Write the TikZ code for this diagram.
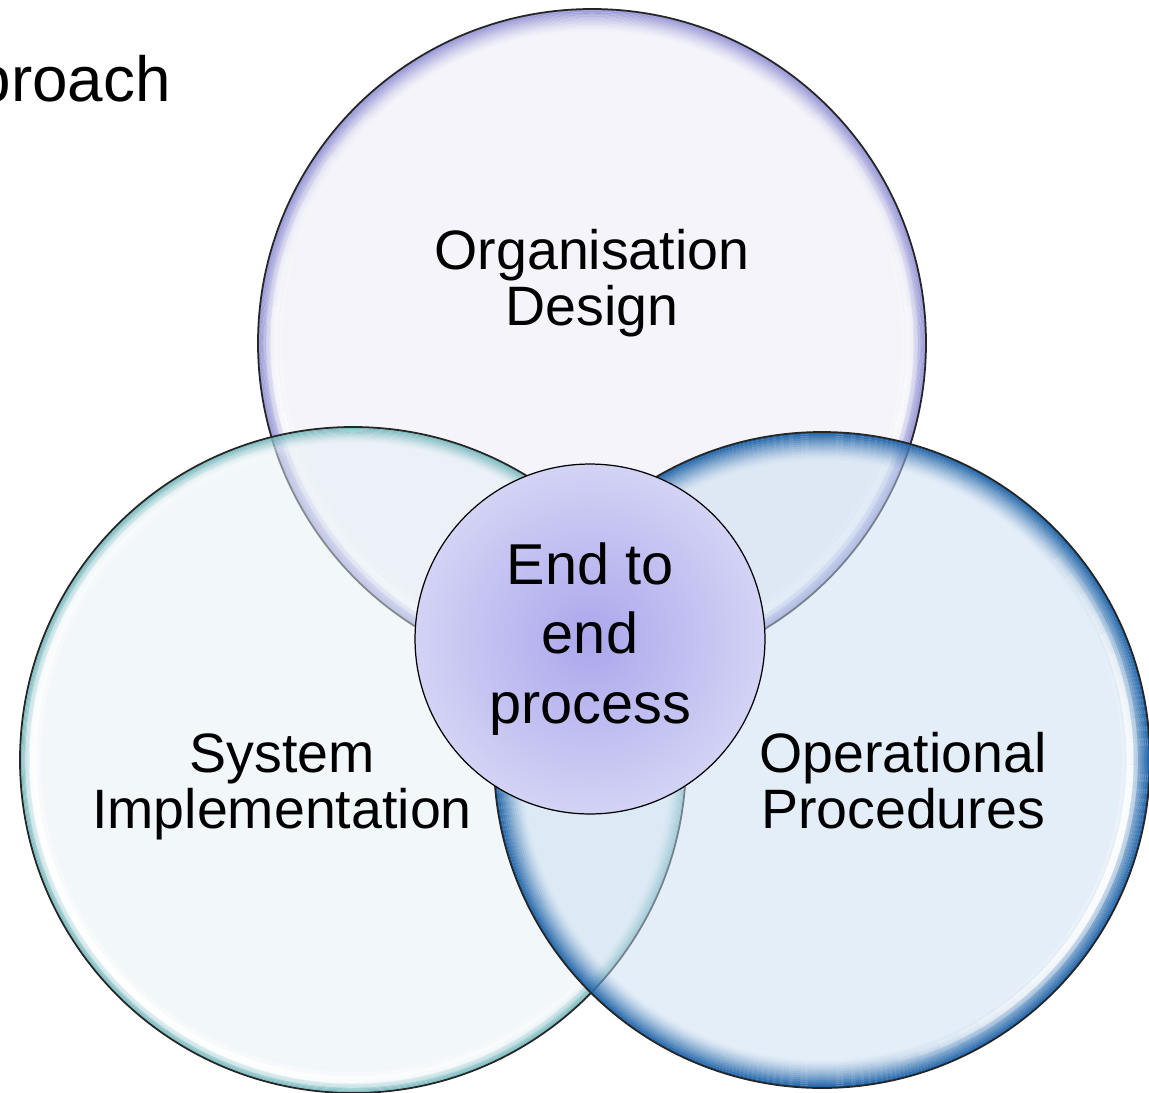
\documentclass[tikz,border=0pt]{standalone}
\usepackage{fontspec}
\setmainfont{Liberation Sans}
\usetikzlibrary{calc}
\newcommand\glowring[5]{%
  \foreach \gi in {0,...,13}{%
    \pgfmathsetmacro\glowOp{#4*(1-\gi/14)^1.5}%
    \pgfmathsetmacro\glowR{#2-(\gi+0.5)*#5/14}%
    \pgfmathsetmacro\glowW{#5/14*1.02*0.02}%
    \draw[#3, line width=\glowW cm, draw opacity=\glowOp] (#1.center) circle[radius=\glowR];
  }%
}
\newcommand\shine[6]{%
  \foreach \sk in {0,...,29}{%
    \pgfmathsetmacro\shA{#3+(#4-#3)*\sk/30}%
    \pgfmathsetmacro\shB{#3+(#4-#3)*(\sk+1)/30}%
    \pgfmathsetmacro\shOp{#6*sin(180*(\sk+0.5)/30)}%
    \pgfmathsetmacro\shOpB{0.45*\shOp}%
    \draw[white, line width=#5*0.045 cm, draw opacity=\shOpB] ($(#1.center)+(\shA:#2)$) arc[start angle=\shA, end angle=\shB, radius=#2];
    \draw[white, line width=#5*0.02 cm, draw opacity=\shOp] ($(#1.center)+(\shA:#2)$) arc[start angle=\shA, end angle=\shB, radius=#2];
  }%
}
\begin{document}
\begin{tikzpicture}[x=0.02cm,y=0.02cm]
\definecolor{topfill}{RGB}{233,233,245}
\definecolor{leftfill}{RGB}{229,239,245}
\definecolor{rightfill}{RGB}{201,221,241}
\definecolor{toptint}{RGB}{140,140,210}
\definecolor{lefttint}{RGB}{100,175,180}
\definecolor{righttint}{RGB}{25,95,165}
\definecolor{cin}{RGB}{171,167,236}
\definecolor{cout}{RGB}{211,211,245}
\tikzset{
  bubble/.style={circle, inner sep=0pt, outer sep=0pt, minimum size=#1, fill opacity=0.5},
  rim/.style={draw=black!85, line width=1pt},
  lbl/.style={font=\fontsize{31.6}{31.8}\selectfont, align=center, inner sep=0pt},
  hub/.style={circle, inner sep=0pt, outer sep=0pt, minimum size=7cm, draw=black, line width=0.7pt,
    inner color=cin, outer color=cout, font=\fontsize{32.8}{39.7}\selectfont, align=center},
  ttlfont/.style={font=\fontsize{36.3}{40}\selectfont, inner sep=0pt}
}
\useasboundingbox (0,-1092) rectangle (1149,0);
\clip (0,-1092) rectangle (1149,0);

\node[ttlfont, anchor=base east] (ttl) at (171,-101) {proach};

% top circle
\node[bubble=13.36cm, fill=topfill] (org) at (592,-343) {};
\glowring{org}{334}{toptint}{0.9}{22}
\shine{org}{318}{125}{415}{7}{0.95}
\draw[rim] (org.center) circle[radius=334];

% left circle
\node[bubble=13.32cm, fill=leftfill] (sys) at (353,-760) {};
\glowring{sys}{333}{lefttint}{0.85}{16}
\shine{sys}{320}{90}{350}{7}{0.95}
\draw[rim] (sys.center) circle[radius=333];

% right circle
\node[bubble=13.12cm, fill=rightfill] (ops) at (822,-760) {};
\glowring{ops}{328}{righttint}{0.95}{28}
\shine{ops}{308}{-80}{45}{7}{0.9}
\draw[rim] (ops.center) circle[radius=328];

% hub
\node[hub] (e2e) at (590,-639) {End to\\end\\process};

% labels
\node[lbl, anchor=base] (orgl) at (592,-325) {Organisation\\Design};
\node[lbl, anchor=base] (sysl) at (282,-828) {System\\Implementation};
\node[lbl, anchor=base] (opsl) at (903,-828) {Operational\\Procedures};
\end{tikzpicture}
\end{document}
